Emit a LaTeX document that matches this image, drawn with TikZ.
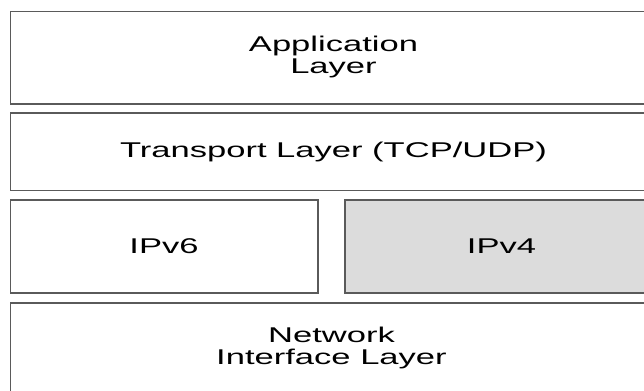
\documentclass[tikz,border=0pt]{standalone}
\usepackage{fontspec}
\newfontfamily\layerfont[FakeStretch=1.62]{Liberation Sans}
\definecolor{edgegray}{HTML}{5A5A5A}
\definecolor{ipgray}{HTML}{DCDCDC}
\begin{document}
\begin{tikzpicture}[x=0.75pt,y=-0.75pt,
    box/.style={draw=edgegray,line width=1.2pt},
    lbl/.style={text=black,align=center,
      font=\layerfont\fontsize{16pt}{16.5pt}\selectfont}]
\useasboundingbox (0,0) rectangle (644,390);
% layers
\draw[box] (10.5,11.5) rectangle (657,104);
\draw[box] (10.5,113) rectangle (657,190.5);
\draw[box] (10.5,200) rectangle (318,293);
\filldraw[box,fill=ipgray] (345,200) rectangle (657,293);
\draw[box] (10.5,303) rectangle (657,396);
% labels
\node[lbl] (app) at (333.5,57) {Application\\Layer};
\node[lbl] (trans) at (333.5,152) {Transport Layer (TCP/UDP)};
\node[lbl] (ipsix) at (164,246.5) {IPv6};
\node[lbl] (ipfour) at (501.5,246.5) {IPv4};
\node[lbl] (net) at (331.5,348) {Network\\Interface Layer};
\end{tikzpicture}
\end{document}
